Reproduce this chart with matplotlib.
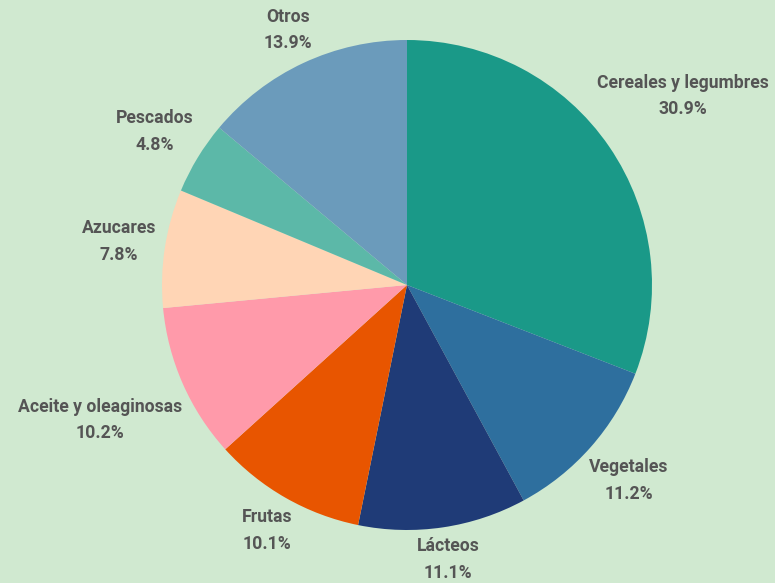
import numpy as np
import matplotlib.pyplot as plt

categorias = ["Cereales y legumbres", "Vegetales", "Lácteos", "Frutas",
              "Aceite y oleaginosas", "Azucares", "Pescados", "Otros"]
porcentajes = [30.9, 11.2, 11.1, 10.1, 10.2, 7.8, 4.8, 13.9]
colores = ["#1a9988", "#2e6f9e", "#1f3b77", "#e85500",
           "#ff9aaa", "#ffd5b5", "#5cb8a8", "#6b9bbb"]

fondo = "#d0e9d0"
texto = "#555555"

W, H, dpi = 775, 583, 100
cx, cy, R = 407, 298, 245   # centro del pie (px desde abajo) y radio

fig = plt.figure(figsize=(W / dpi, H / dpi), dpi=dpi, facecolor=fondo)
ax = fig.add_axes([0, 0, 1, 1])
ax.set_facecolor(fondo)

wedges, _ = ax.pie(porcentajes, colors=colores, startangle=90, counterclock=False,
                   radius=1, wedgeprops=dict(linewidth=0))
ax.set_xlim(-cx / R, (W - cx) / R)
ax.set_ylim(-cy / R, (H - cy) / R)
ax.axis('off')

fam = ['Liberation Sans Narrow', 'Roboto', 'DejaVu Sans']
renderer = fig.canvas.get_renderer()
offset = 6 / R
for w, cat, p in zip(wedges, categorias, porcentajes):
    ang = np.deg2rad((w.theta1 + w.theta2) / 2)
    t = ax.text(0, 0, f"{cat}\n{p}%", ha='center', va='center', color=texto,
                fontsize=12.7, fontweight='bold', family=fam, linespacing=1.62)
    bb = t.get_window_extent(renderer)
    hw, hh = bb.width / 2 / R, bb.height / 2 / R
    d = 1 + offset + abs(np.cos(ang)) * hw + abs(np.sin(ang)) * hh
    t.set_position((d * np.cos(ang), d * np.sin(ang)))

fig.savefig("out.png", dpi=dpi, facecolor=fondo)
